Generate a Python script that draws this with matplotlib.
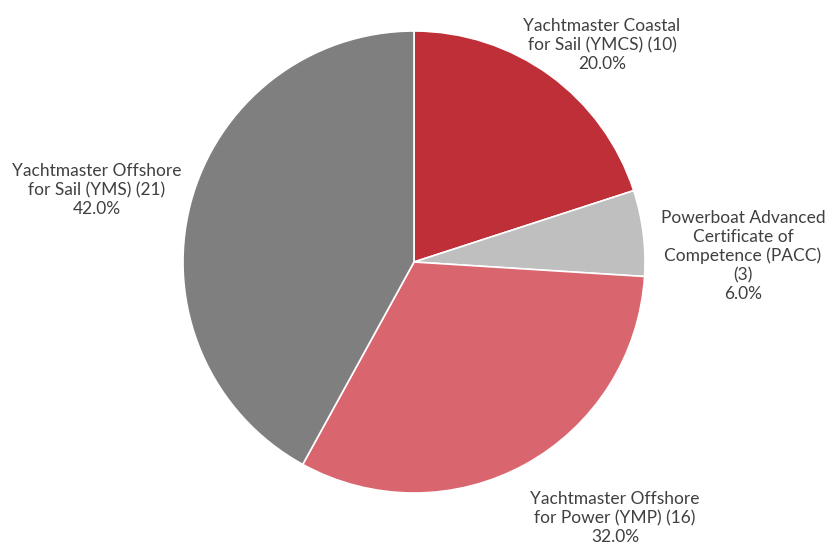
import matplotlib
matplotlib.use('Agg')
import matplotlib.pyplot as plt

plt.rcParams['font.family'] = ['Lato', 'DejaVu Sans']

labels = ['Yachtmaster Coastal\nfor Sail (YMCS)', 'Powerboat Advanced\nCertificate of\nCompetence (PACC)\n',
          'Yachtmaster Offshore\nfor Power (YMP)', 'Yachtmaster Offshore\nfor Sail (YMS)']
counts = [10, 3, 16, 21]
colors = ['#BF2F38', '#BFBFBF', '#D9666E', '#7F7F7F']

# label centres in pixel coords (x from left, y from top)
label_pos = [(602, 45), (743, 256), (615, 518), (97, 190)]

W, H = 835, 545
fig = plt.figure(figsize=(W / 100, H / 100), dpi=100)
ax = fig.add_axes([0, 0, 1, 1])

cx, cy, r = 414, H - 262, 231
ax.pie(counts, colors=colors, startangle=90, counterclock=False,
       center=(cx, cy), radius=r, frame=True,
       wedgeprops=dict(edgecolor='white', linewidth=1.2))
ax.set_xlim(0, W)
ax.set_ylim(0, H)
ax.set_aspect('equal')
ax.axis('off')

total = sum(counts)
for lab, n, (x, y) in zip(labels, counts, label_pos):
    if lab.endswith('\n'):
        txt = f"{lab}({n})\n{n / total * 100:.1f}%"
    else:
        txt = f"{lab} ({n})\n{n / total * 100:.1f}%"
    ax.text(x, H - y, txt, ha='center', va='center', fontsize=12.5,
            color='#404040', linespacing=1.22)

fig.savefig('out.png', dpi=100, facecolor='white')
